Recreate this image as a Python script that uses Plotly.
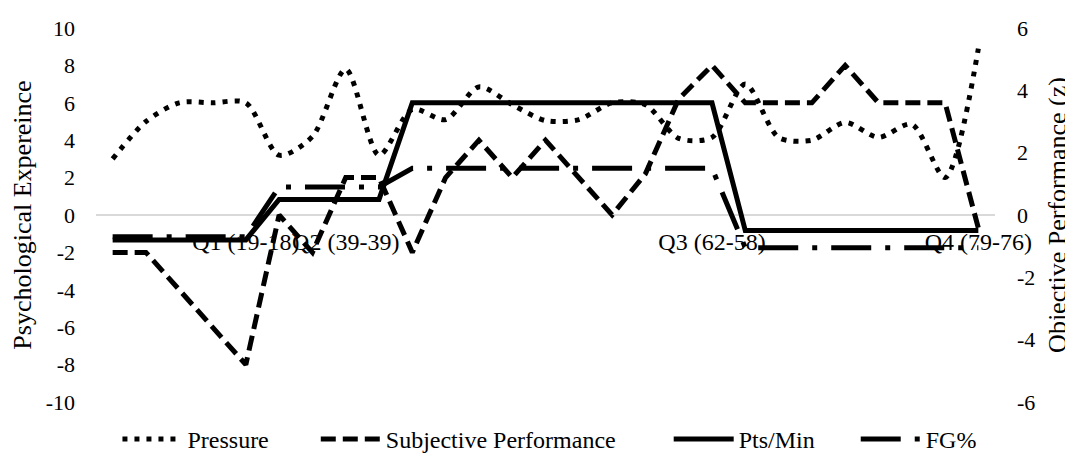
import plotly.graph_objects as go

# ---- data ----
labels = ["", "", "", "", "Q1 (19-18)", "", "", "Q2 (39-39)", "", "", "", "", "", "", "",
          "", "", "", "Q3 (62-58)", "", "", "", "", "", "", "", "Q4 (79-76)"]
pressure = [3.0, 5.0, 6.0, 6.0, 6.0, 3.2, 4.2, 7.8, 3.2, 5.65, 5.1, 6.85, 5.9, 5.05, 5.1,
            6.0, 5.9, 4.1, 4.15, 7.0, 4.15, 4.0, 4.95, 4.15, 4.85, 2.0, 8.9]
subjective = [-2, -2, -4, -6, -8, 0, -2, 2, 2, -2, 2, 4, 2, 4, 2,
              0, 2.2, 6.2, 8, 6, 6, 6, 8, 6, 6, 6, -0.7]
pts_min = [-0.8, -0.8, -0.8, -0.8, -0.8, 0.5, 0.5, 0.5, 0.5, 3.6, 3.6, 3.6, 3.6, 3.6, 3.6,
           3.6, 3.6, 3.6, 3.6, -0.5, -0.5, -0.5, -0.5, -0.5, -0.5, -0.5, -0.5]
fg_pct = [-0.7, -0.7, -0.7, -0.7, -0.7, 0.9, 0.9, 0.9, 0.9, 1.5, 1.5, 1.5, 1.5, 1.5, 1.5,
          1.5, 1.5, 1.5, 1.5, -1.05, -1.05, -1.05, -1.05, -1.05, -1.05, -1.05, -1.05]
series_names = ["Pressure", "Subjective Performance", "Pts/Min", "FG%"]
left_ticks = list(range(-10, 11, 2))
right_ticks = list(range(-6, 7, 2))

x = list(range(len(labels)))
tickvals = [i for i, t in enumerate(labels) if t]
ticktext = [t for t in labels if t]

FONT = "Liberation Serif, Times New Roman, serif"
FS = 24
TFS = 26
NB = "\u00a0"
pad = [7, 8, 6, 0]
names = [n + NB * p for n, p in zip(series_names, pad)]

fig = go.Figure()
fig.add_trace(go.Scatter(x=x, y=pressure, name=names[0], mode="lines",
                         line=dict(color="black", width=5, dash="5px,7px", shape="spline", smoothing=0.8)))
fig.add_trace(go.Scatter(x=x, y=subjective, name=names[1], mode="lines",
                         line=dict(color="black", width=5, dash="15px,7px")))
fig.add_trace(go.Scatter(x=x, y=pts_min, name=names[2], mode="lines", yaxis="y2",
                         line=dict(color="black", width=5)))
fig.add_trace(go.Scatter(x=x, y=fg_pct, name=names[3], mode="lines", yaxis="y2",
                         line=dict(color="black", width=5, dash="40px,14px,5px,14px")))

# the page body has an 8px margin, so the figure is sized to fit the window
fig.update_layout(
    width=1065, height=453,
    margin=dict(l=88, r=78, t=20, b=59, autoexpand=False),
    paper_bgcolor="white", plot_bgcolor="white",
    font=dict(family=FONT, size=FS, color="black"),
    showlegend=True,
    legend=dict(orientation="h", x=0.5044, xanchor="center", y=-0.10, yanchor="middle",
                font=dict(family=FONT, size=FS, color="black"), itemwidth=60,
                traceorder="normal"),
    xaxis=dict(range=[-0.5, len(labels) - 0.5], tickmode="array", tickvals=tickvals,
               ticktext=ticktext, showgrid=False, showline=False, zeroline=False,
               ticks="", anchor="free", position=0.5, ticklabelstandoff=10, tickangle=0,
               automargin=False,
               tickfont=dict(family=FONT, size=FS, color="black")),
    yaxis=dict(range=[-10, 10], tickmode="array", tickvals=left_ticks,
               ticktext=[str(v) for v in left_ticks], showgrid=False,
               zeroline=True, zerolinecolor="#d9d9d9", zerolinewidth=1.5, ticks="",
               showline=False, ticklabelstandoff=20, automargin=False,
               tickfont=dict(family=FONT, size=22, color="black"),
               title=dict(text="Psychological Expereince", standoff=16,
                          font=dict(family=FONT, size=TFS, color="black"))),
    yaxis2=dict(range=[-6, 6], tickmode="array", tickvals=right_ticks,
                ticktext=[str(v) for v in right_ticks], overlaying="y",
                side="right", showgrid=False, zeroline=False, ticks="", showline=False,
                ticklabelstandoff=21, automargin=False,
                tickfont=dict(family=FONT, size=22, color="black"),
                title=dict(text="Objective Performance (z)", standoff=13,
                           font=dict(family=FONT, size=TFS, color="black"))),
)

fig.write_html("out.html")
